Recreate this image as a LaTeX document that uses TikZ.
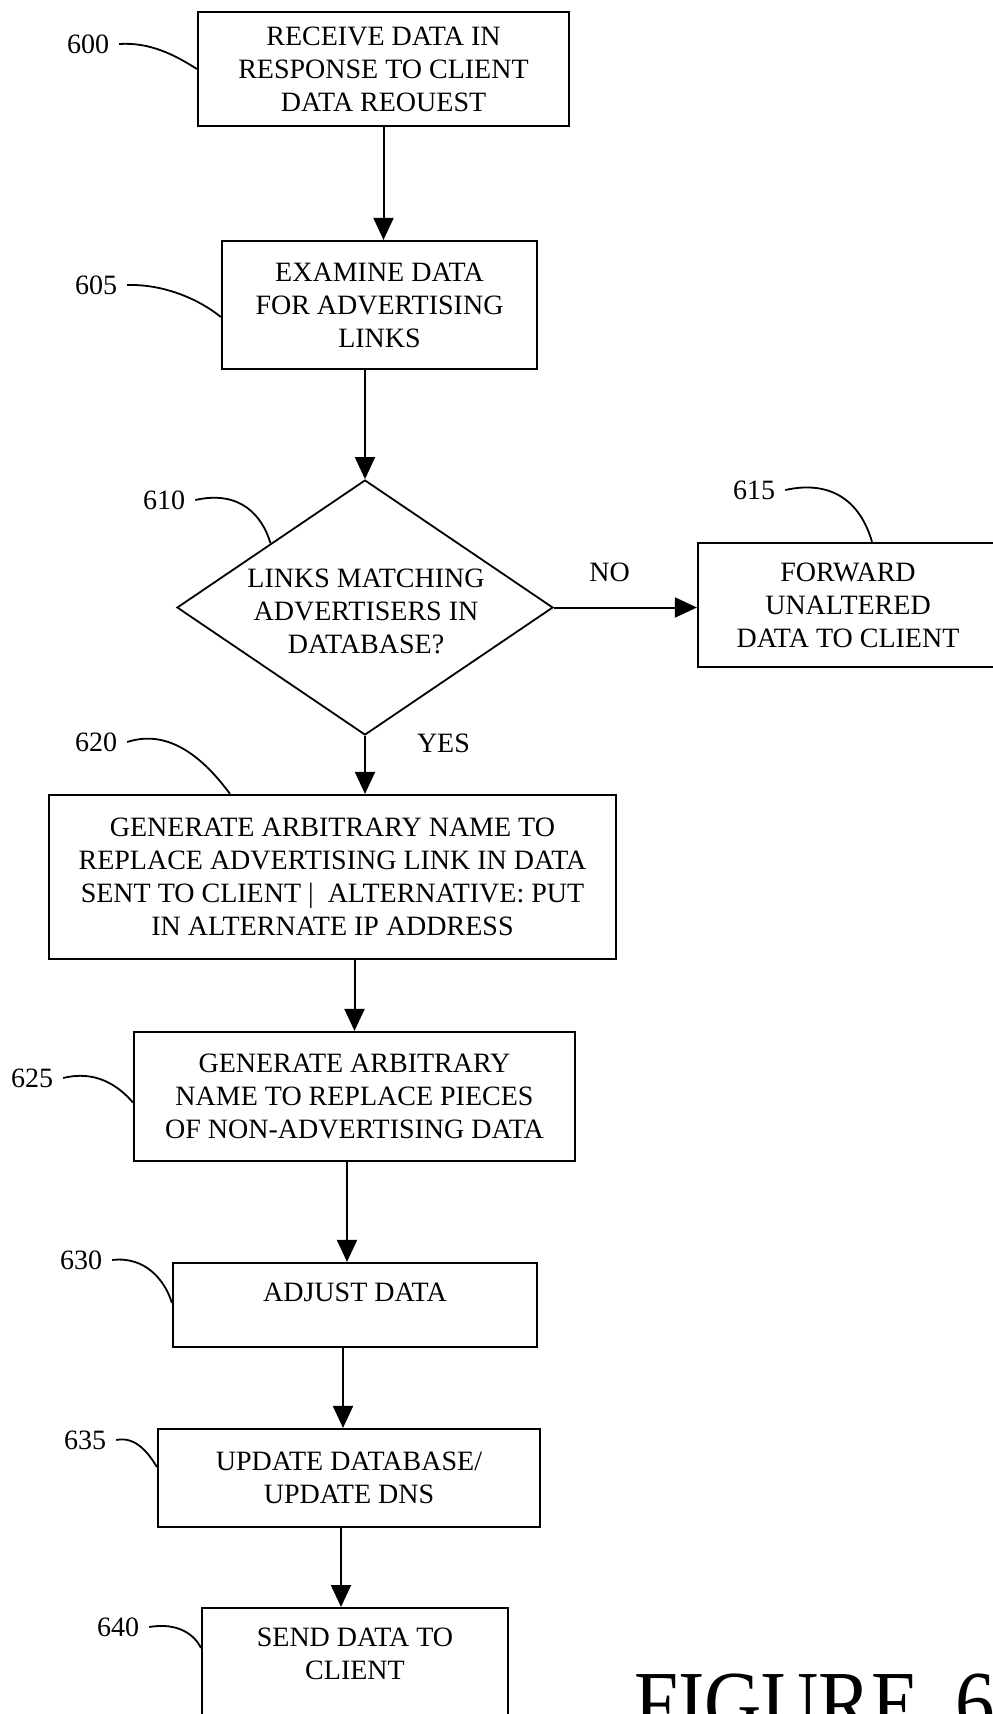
\documentclass[tikz,border=0pt]{standalone}
\usepackage{fontspec}
\setmainfont{Liberation Serif}
\usetikzlibrary{arrows.meta,shapes.geometric,calc}

\begin{document}
\begin{tikzpicture}[x=1pt, y=-1pt, >={Triangle[length=22pt,width=20pt]},
  every node/.style={font=\fontsize{28}{33}\selectfont, align=center, inner sep=0pt},
  box/.style={draw, rectangle, line width=2.2pt},
  decision/.style={draw, diamond, line width=1.8pt},
  tag/.style={inner xsep=10pt},
  flow/.style={->, line width=2pt},
  lead/.style={line width=1.8pt}]
                    \useasboundingbox (0,0) rectangle (993,1714);
                    \clip (0,0) rectangle (993,1714);
                    \fill[white] (0,0) rectangle (993,1714);

                    % Nodes
                    \node[box, minimum width=371pt, minimum height=114pt] (receive) at (383.5,69) {RECEIVE DATA IN\\RESPONSE TO CLIENT\\DATA REOUEST};
                    \node[box, minimum width=315pt, minimum height=128pt] (examine) at (379.5,305) {EXAMINE DATA\\FOR ADVERTISING\\LINKS};
                    \node[decision, minimum width=376pt, minimum height=255pt] (match) at (365,607.5) {};
                    \node (matchText) at (366,611) {LINKS MATCHING\\ADVERTISERS IN\\DATABASE?};
                    \node[box, minimum width=300pt, minimum height=124pt] (forward) at (848,605) {FORWARD\\UNALTERED\\DATA TO CLIENT};
                    \node[box, minimum width=567pt, minimum height=164pt] (genLink) at (332.5,877) {GENERATE ARBITRARY NAME TO\\REPLACE ADVERTISING LINK IN DATA\\SENT TO CLIENT |\ \ ALTERNATIVE: PUT\\IN ALTERNATE IP ADDRESS};
                    \node[box, minimum width=441pt, minimum height=129pt] (genPieces) at (354.5,1096.5) {GENERATE ARBITRARY\\NAME TO REPLACE PIECES\\OF NON-ADVERTISING DATA};
                    \node[box, minimum width=364pt, minimum height=84pt] (adjust) at (355,1305) {ADJUST DATA\\[-8pt]\mbox{}};
                    \node[box, minimum width=382pt, minimum height=98pt] (update) at (349,1478) {UPDATE DATABASE/\\UPDATE DNS};
                    \node[box, anchor=north, minimum width=306pt, inner ysep=20pt, text depth=110pt] (send) at (355,1607) {SEND DATA TO\\CLIENT};
                    \node[anchor=base west, font=\fontsize{90}{90}\selectfont] (figTitle) at (634,1733) {\scalebox{0.88}[1]{FIGURE\hspace{0.44em}6}};

                    % Reference numbers
                    \node[tag] (lbl600) at (88,44) {600};
                    \node[tag] (lbl605) at (96,285) {605};
                    \node[tag] (lbl610) at (164,500) {610};
                    \node[tag] (lbl615) at (754,490) {615};
                    \node[tag] (lbl620) at (96,742) {620};
                    \node[tag] (lbl625) at (32,1078) {625};
                    \node[tag] (lbl630) at (81,1260) {630};
                    \node[tag] (lbl635) at (85,1440) {635};
                    \node[tag] (lbl640) at (118,1627) {640};

                    \draw[lead] (lbl600.east) .. controls (150,42) and (175,55) .. (receive.west);
                    \draw[lead] (lbl605.east) .. controls (165,284) and (200,300) .. ([yshift=-12pt]examine.west);
                    \draw[lead] (lbl610.east) .. controls (240,490) and (262,515) .. (match.north west);
                    \draw[lead] (lbl615.east) .. controls (830,480) and (860,500) .. ([xshift=24pt]forward.north);
                    \draw[lead] (lbl620.east) .. controls (170,728) and (205,760) .. ([xshift=-102.5pt]genLink.north);
                    \draw[lead] (lbl625.east) .. controls (95,1070) and (118,1085) .. ([yshift=-6pt]genPieces.west);
                    \draw[lead] (lbl630.east) .. controls (145,1256) and (165,1280) .. ([yshift=2pt]adjust.west);
                    \draw[lead] (lbl635.east) .. controls (135,1436) and (148,1452) .. ([yshift=11pt]update.west);
                    \draw[lead] (lbl640.east) .. controls (178,1622) and (195,1635) .. ([yshift=-41pt]send.north west);

                    % Edges
                    \draw[flow] (receive.south) -- (receive.south |- examine.north);
                    \draw[flow] (match.north |- examine.south) -- (match.north);
                    \draw[flow] (match.east) -- (match.east -| forward.west) node[pos=0.39, above=25pt] {NO};
                    \draw[flow] (match.south) -- (match.south |- genLink.north) node[pos=0.12, right=51pt] {YES};
                    \draw[flow] (genPieces.north |- genLink.south) -- (genPieces.north);
                    \draw[flow] ($(genPieces.south)+(-7.5,0)$) -- ($(genPieces.south |- adjust.north)+(-7.5,0)$);
                    \draw[flow] ($(update.north |- adjust.south)+(-6,0)$) -- ($(update.north)+(-6,0)$);
                    \draw[flow] ($(update.south)+(-8,0)$) -- ($(update.south |- send.north)+(-8,0)$);
                \end{tikzpicture}
\end{document}
